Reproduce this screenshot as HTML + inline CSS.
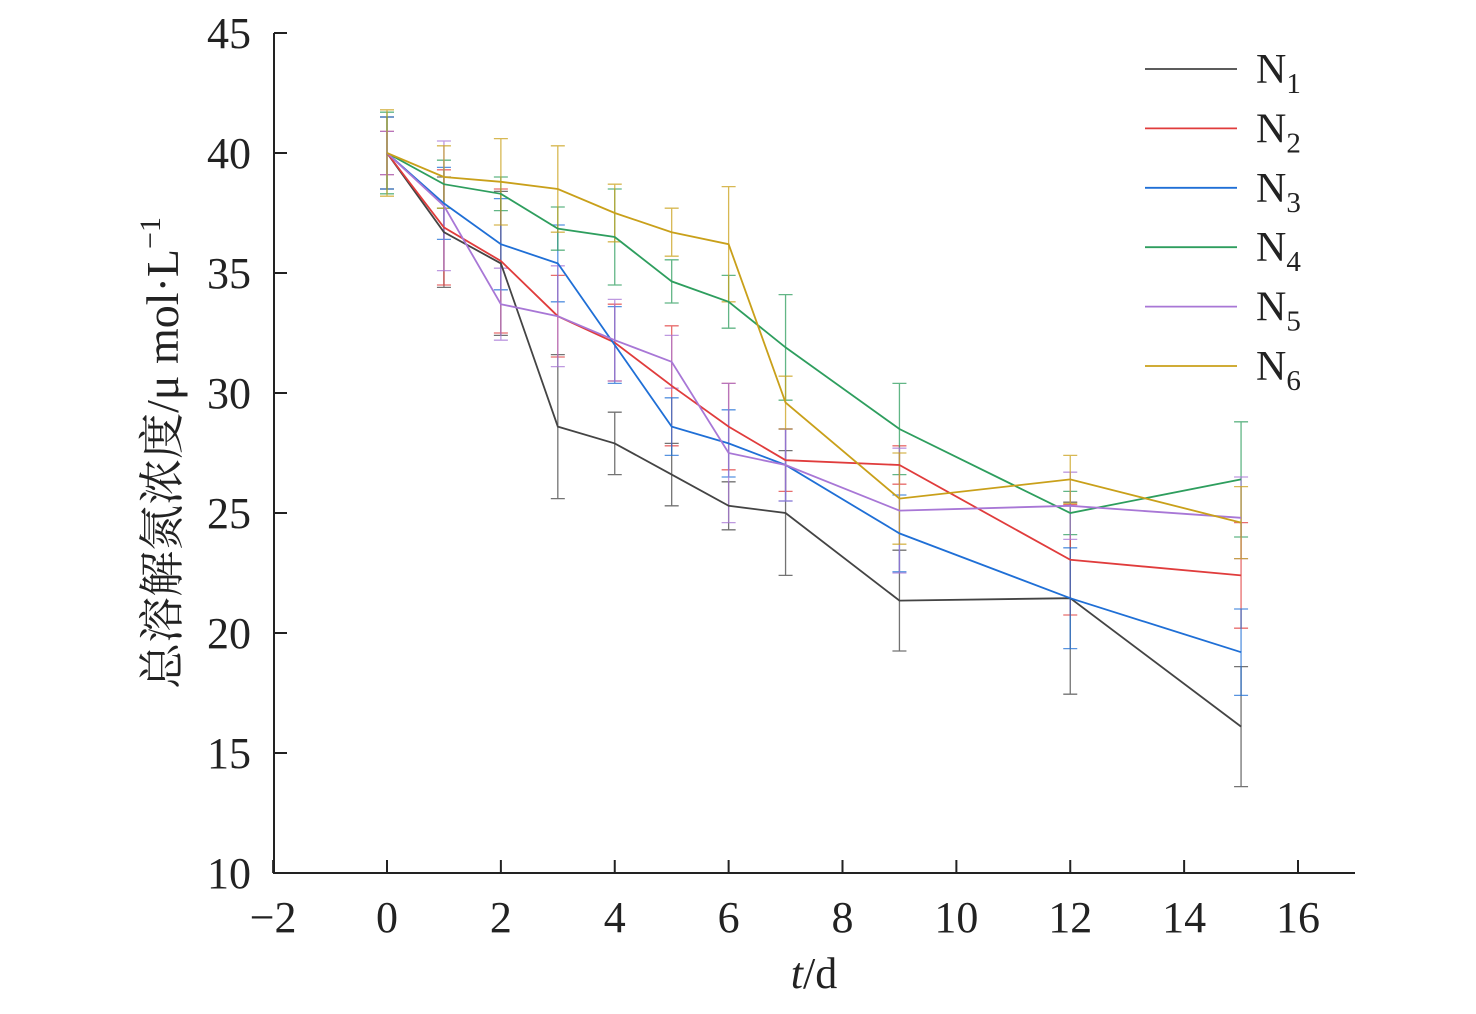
<!DOCTYPE html>
<html><head><meta charset="utf-8"><style>
html,body{margin:0;padding:0;background:#fff;}
svg text{font-family:"Liberation Serif","Noto Serif CJK SC",serif;fill:#222;}
</style></head><body>
<svg id="chart" width="1476" height="1009" xmlns="http://www.w3.org/2000/svg">
<g id="axes"></g>
<g id="bars"></g>
<g id="lines"></g>
<g id="legend"></g>
<text transform="translate(178,453) rotate(-90)" text-anchor="middle" font-size="46">总溶解氮浓度/μ mol·L<tspan dy="-18" font-size="30">−1</tspan></text>
<text x="814" y="988" text-anchor="middle" font-size="44"><tspan font-style="italic">t</tspan>/d</text>
</svg>
<script>
const days=[0,1,2,3,4,5,6,7,9,12,15];
const names=["1","2","3","4","5","6"];
const colors=["#444444","#e03c3c","#1f6fd6","#2e9e5e","#a877d6","#c9a01a"];
const n1=[40,36.7,35.4,28.6,27.9,26.6,25.3,25.0,21.35,21.45,16.1];
const n2=[40,36.9,35.5,33.2,32.1,30.3,28.6,27.2,27.0,23.05,22.4];
const n3=[40,37.9,36.2,35.4,32.0,28.6,27.9,27.0,24.15,21.45,19.2];
const n4=[40,38.7,38.3,36.85,36.5,34.65,33.8,31.9,28.5,25.0,26.4];
const n5=[40,37.8,33.7,33.2,32.2,31.3,27.5,27.0,25.1,25.3,24.8];
const n6=[40,39.0,38.8,38.5,37.5,36.7,36.2,29.6,25.6,26.4,24.6];
const e1=[1.5,2.3,3.0,3.0,1.3,1.3,1.0,2.6,2.1,4.0,2.5];
const e2=[0.9,2.4,3.0,1.7,1.6,2.5,1.8,1.3,0.8,2.3,2.2];
const e3=[1.5,1.5,1.9,1.6,1.6,1.2,1.4,1.5,1.6,2.1,1.8];
const e4=[1.7,1.0,0.7,0.9,2.0,0.9,1.1,2.2,1.9,0.9,2.4];
const e5=[0.9,2.7,1.5,2.1,1.7,1.1,2.9,1.5,2.6,1.4,1.7];
const e6=[1.8,1.3,1.8,1.8,1.2,1.0,2.4,1.1,1.9,1.0,1.5];
const xTicks=[-2,0,2,4,6,8,10,12,14,16];
const yTicks=[10,15,20,25,30,35,40,45];
const series=[n1,n2,n3,n4,n5,n6], errs=[e1,e2,e3,e4,e5,e6];
const NS="http://www.w3.org/2000/svg";
const X=v=>387+(v)*(1298-387)/16;
const Y=v=>873-(v-10)*24;
function mk(t,a,p){const e=document.createElementNS(NS,t);for(const k in a)e.setAttribute(k,a[k]);p.appendChild(e);return e;}
const ax=document.getElementById('axes');
const xa=mk('path',{d:`M274,33 L274,873 L1355,873`,fill:'none',stroke:'#222','stroke-width':2},ax);


xTicks.forEach(v=>{
 const l=mk('line',{x1:X(v),x2:X(v),y1:873,y2:860,stroke:'#222','stroke-width':2},ax);
 
 
 const t=mk('text',{x:X(v),y:932,'text-anchor':'middle','font-size':44},ax);
 t.textContent=v<0?'−'+(-v):String(v);
 
 
});
yTicks.forEach(v=>{
 const l=mk('line',{x1:274,x2:287,y1:Y(v),y2:Y(v),stroke:'#222','stroke-width':2},ax);
 
 
 const t=mk('text',{x:251,y:Y(v)+15,'text-anchor':'end','font-size':44},ax);
 t.textContent=String(v);
 
 
});
const bg=document.getElementById('bars'), lg=document.getElementById('lines'), leg=document.getElementById('legend');
series.forEach((s,i)=>{
 s.forEach((v,j)=>{
  const x=X(days[j]),a=Y(v+errs[i][j]),b=Y(v-errs[i][j]);
  const p=mk('path',{d:`M${x},${a}L${x},${b}M${x-7},${a}L${x+7},${a}M${x-7},${b}L${x+7},${b}`,stroke:colors[i],'stroke-width':1.3,fill:'none',opacity:0.75},bg);
  
  
 });
 const pl=mk('polyline',{points:s.map((v,j)=>X(days[j])+','+Y(v)).join(' '),fill:'none',stroke:colors[i],'stroke-width':1.8},lg);
 
 
 const ly=69+i*59.4;
 const ll=mk('line',{x1:1145,x2:1237,y1:ly,y2:ly,stroke:colors[i],'stroke-width':1.8},leg);
 
 
 const lt=mk('text',{x:1256,y:ly+14,'font-size':42},leg);
 lt.innerHTML='N<tspan dy="10" font-size="29">'+names[i]+'</tspan>';
 
 
});
</script>
</body></html>
